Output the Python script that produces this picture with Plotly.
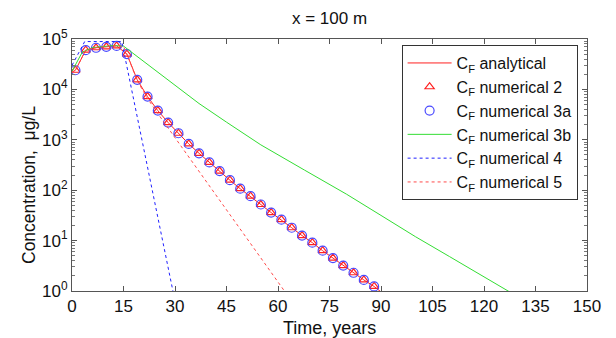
import plotly.graph_objects as go

# ---- data ----
t_markers = [1, 4, 7, 10, 13, 16, 19, 22, 25, 28, 31, 34, 37, 40, 43, 46, 49, 52,
             55, 58, 61, 64, 67, 70, 73, 76, 79, 82, 85, 88]
c_num2 = [24000, 60000, 67000, 70000, 73000, 50000, 15500, 7200, 3800, 2200, 1350,
          830, 540, 355, 240, 158, 107, 76, 52, 36, 26, 18, 12.6, 9.1, 6.3, 4.5,
          3.2, 2.3, 1.66, 1.23]
c_num3a = [24000, 60000, 67000, 70000, 73000, 50000, 15500, 7200, 3800, 2200, 1350,
           830, 540, 355, 240, 158, 107, 76, 52, 36, 26, 18, 12.6, 9.1, 6.3, 4.5,
           3.2, 2.3, 1.66, 1.23]

t_analytical = [0] + t_markers + [91]
c_analytical = [22000] + c_num2 + [0.85]

t_num3b = [0, 3, 6, 9, 12, 15, 20, 25, 30, 37, 45, 55, 67.7, 80, 90, 100, 110, 120, 127, 130]
c_num3b = [22900, 55000, 67600, 70800, 74100, 72400, 39800, 21400, 11700, 5250, 2240,
           794, 251, 83, 31.6, 12, 4.8, 1.9, 1.0, 0.76]

t_num4 = [0, 3.7, 14.5, 20, 25, 29.4, 30]
c_num4 = [30000, 89000, 89000, 1320, 29, 1.0, 0.63]

t_num5 = [0, 1, 4, 7, 10, 13, 15, 16, 19, 22, 25, 30, 36.7, 45, 55, 61.8, 63]
c_num5 = [21900, 24000, 60300, 67600, 70800, 74100, 70800, 50100, 14800, 6600, 3310,
          1100, 251, 40.7, 4.47, 1.0, 0.78]

x_ticks = [0, 15, 30, 45, 60, 75, 90, 105, 120, 135, 150]
y_tickvals = [1, 10, 100, 1000, 10000, 100000]
y_ticktext = ["10<sup>0</sup>", "10<sup>1</sup>", "10<sup>2</sup>", "10<sup>3</sup>",
              "10<sup>4</sup>", "10<sup>5</sup>"]
y_minor = [m * 10 ** k for k in range(5) for m in range(2, 10)]

FONT = "Arial, Liberation Sans, sans-serif"
L, R, T, B = 72, 587, 39, 291
W, H = 616, 338

fig = go.Figure()
fig.add_trace(go.Scatter(x=t_analytical, y=c_analytical, mode="lines",
                         line=dict(color="#ff2020", width=1),
                         name="C<sub>F</sub> analytical"))
fig.add_trace(go.Scatter(x=t_markers, y=c_num2, mode="markers",
                         marker=dict(symbol="triangle-up-open", size=8, color="#ff2020",
                                     line=dict(width=1.2)),
                         name="C<sub>F</sub> numerical 2"))
fig.add_trace(go.Scatter(x=t_markers, y=c_num3a, mode="markers",
                         marker=dict(symbol="circle-open", size=9, color="#4a4aff",
                                     line=dict(width=1.2)),
                         name="C<sub>F</sub> numerical 3a"))
fig.add_trace(go.Scatter(x=t_num3b, y=c_num3b, mode="lines",
                         line=dict(color="#33dd33", width=1),
                         name="C<sub>F</sub> numerical 3b"))
fig.add_trace(go.Scatter(x=t_num4, y=c_num4, mode="lines",
                         line=dict(color="#2020ff", width=1, dash="dot"),
                         name="C<sub>F</sub> numerical 4"))
fig.add_trace(go.Scatter(x=t_num5, y=c_num5, mode="lines",
                         line=dict(color="#ff4a4a", width=1, dash="dot"),
                         name="C<sub>F</sub> numerical 5"))

fig.update_layout(
    width=W, height=H,
    margin=dict(l=L, r=W - R, t=T, b=H - B, autoexpand=False),
    paper_bgcolor="white", plot_bgcolor="white",
    font=dict(family=FONT, size=17, color="#111"),
    title=dict(text="x = 100 m", x=(L + R) / 2 / W, xanchor="center",
               y=1 - 18 / H, yanchor="middle", font=dict(size=17, family=FONT)),
    legend=dict(x=0.640, y=0.976, xanchor="left", yanchor="top",
                bgcolor="white", bordercolor="#333", borderwidth=1,
                font=dict(size=16, family=FONT), tracegroupgap=0, itemwidth=44),
    showlegend=True,
    annotations=[
        dict(text="Concentration,  μg/L", textangle=-90,
             xref="paper", yref="paper",
             x=(29 - L) / (R - L), y=(B - 185) / (B - T),
             xanchor="center", yanchor="middle", showarrow=False,
             font=dict(size=17.5, family=FONT, color="#111")),
        dict(text="Time, years", xref="paper", yref="paper",
             x=0.5, y=(B - 328) / (B - T), xanchor="center", yanchor="middle",
             showarrow=False, font=dict(size=18, family=FONT, color="#111")),
    ],
)
fig.update_xaxes(range=[0, 150], tickvals=x_ticks, ticks="inside", ticklen=5,
                 tickcolor="#555", showline=True, linecolor="#555", linewidth=1,
                 mirror="ticks", showgrid=False, zeroline=False, automargin=False,
                 tickfont=dict(size=17))
fig.update_yaxes(type="log", range=[0, 5], tickvals=y_tickvals, ticktext=y_ticktext,
                 ticks="inside", ticklen=5, tickcolor="#555", showline=True,
                 linecolor="#555", linewidth=1, mirror="ticks", showgrid=False,
                 zeroline=False, automargin=False,
                 minor=dict(tickmode="array", tickvals=y_minor, ticks="inside",
                            ticklen=3, tickcolor="#777", showgrid=False),
                 tickfont=dict(size=17))

fig.write_html("out.html")
